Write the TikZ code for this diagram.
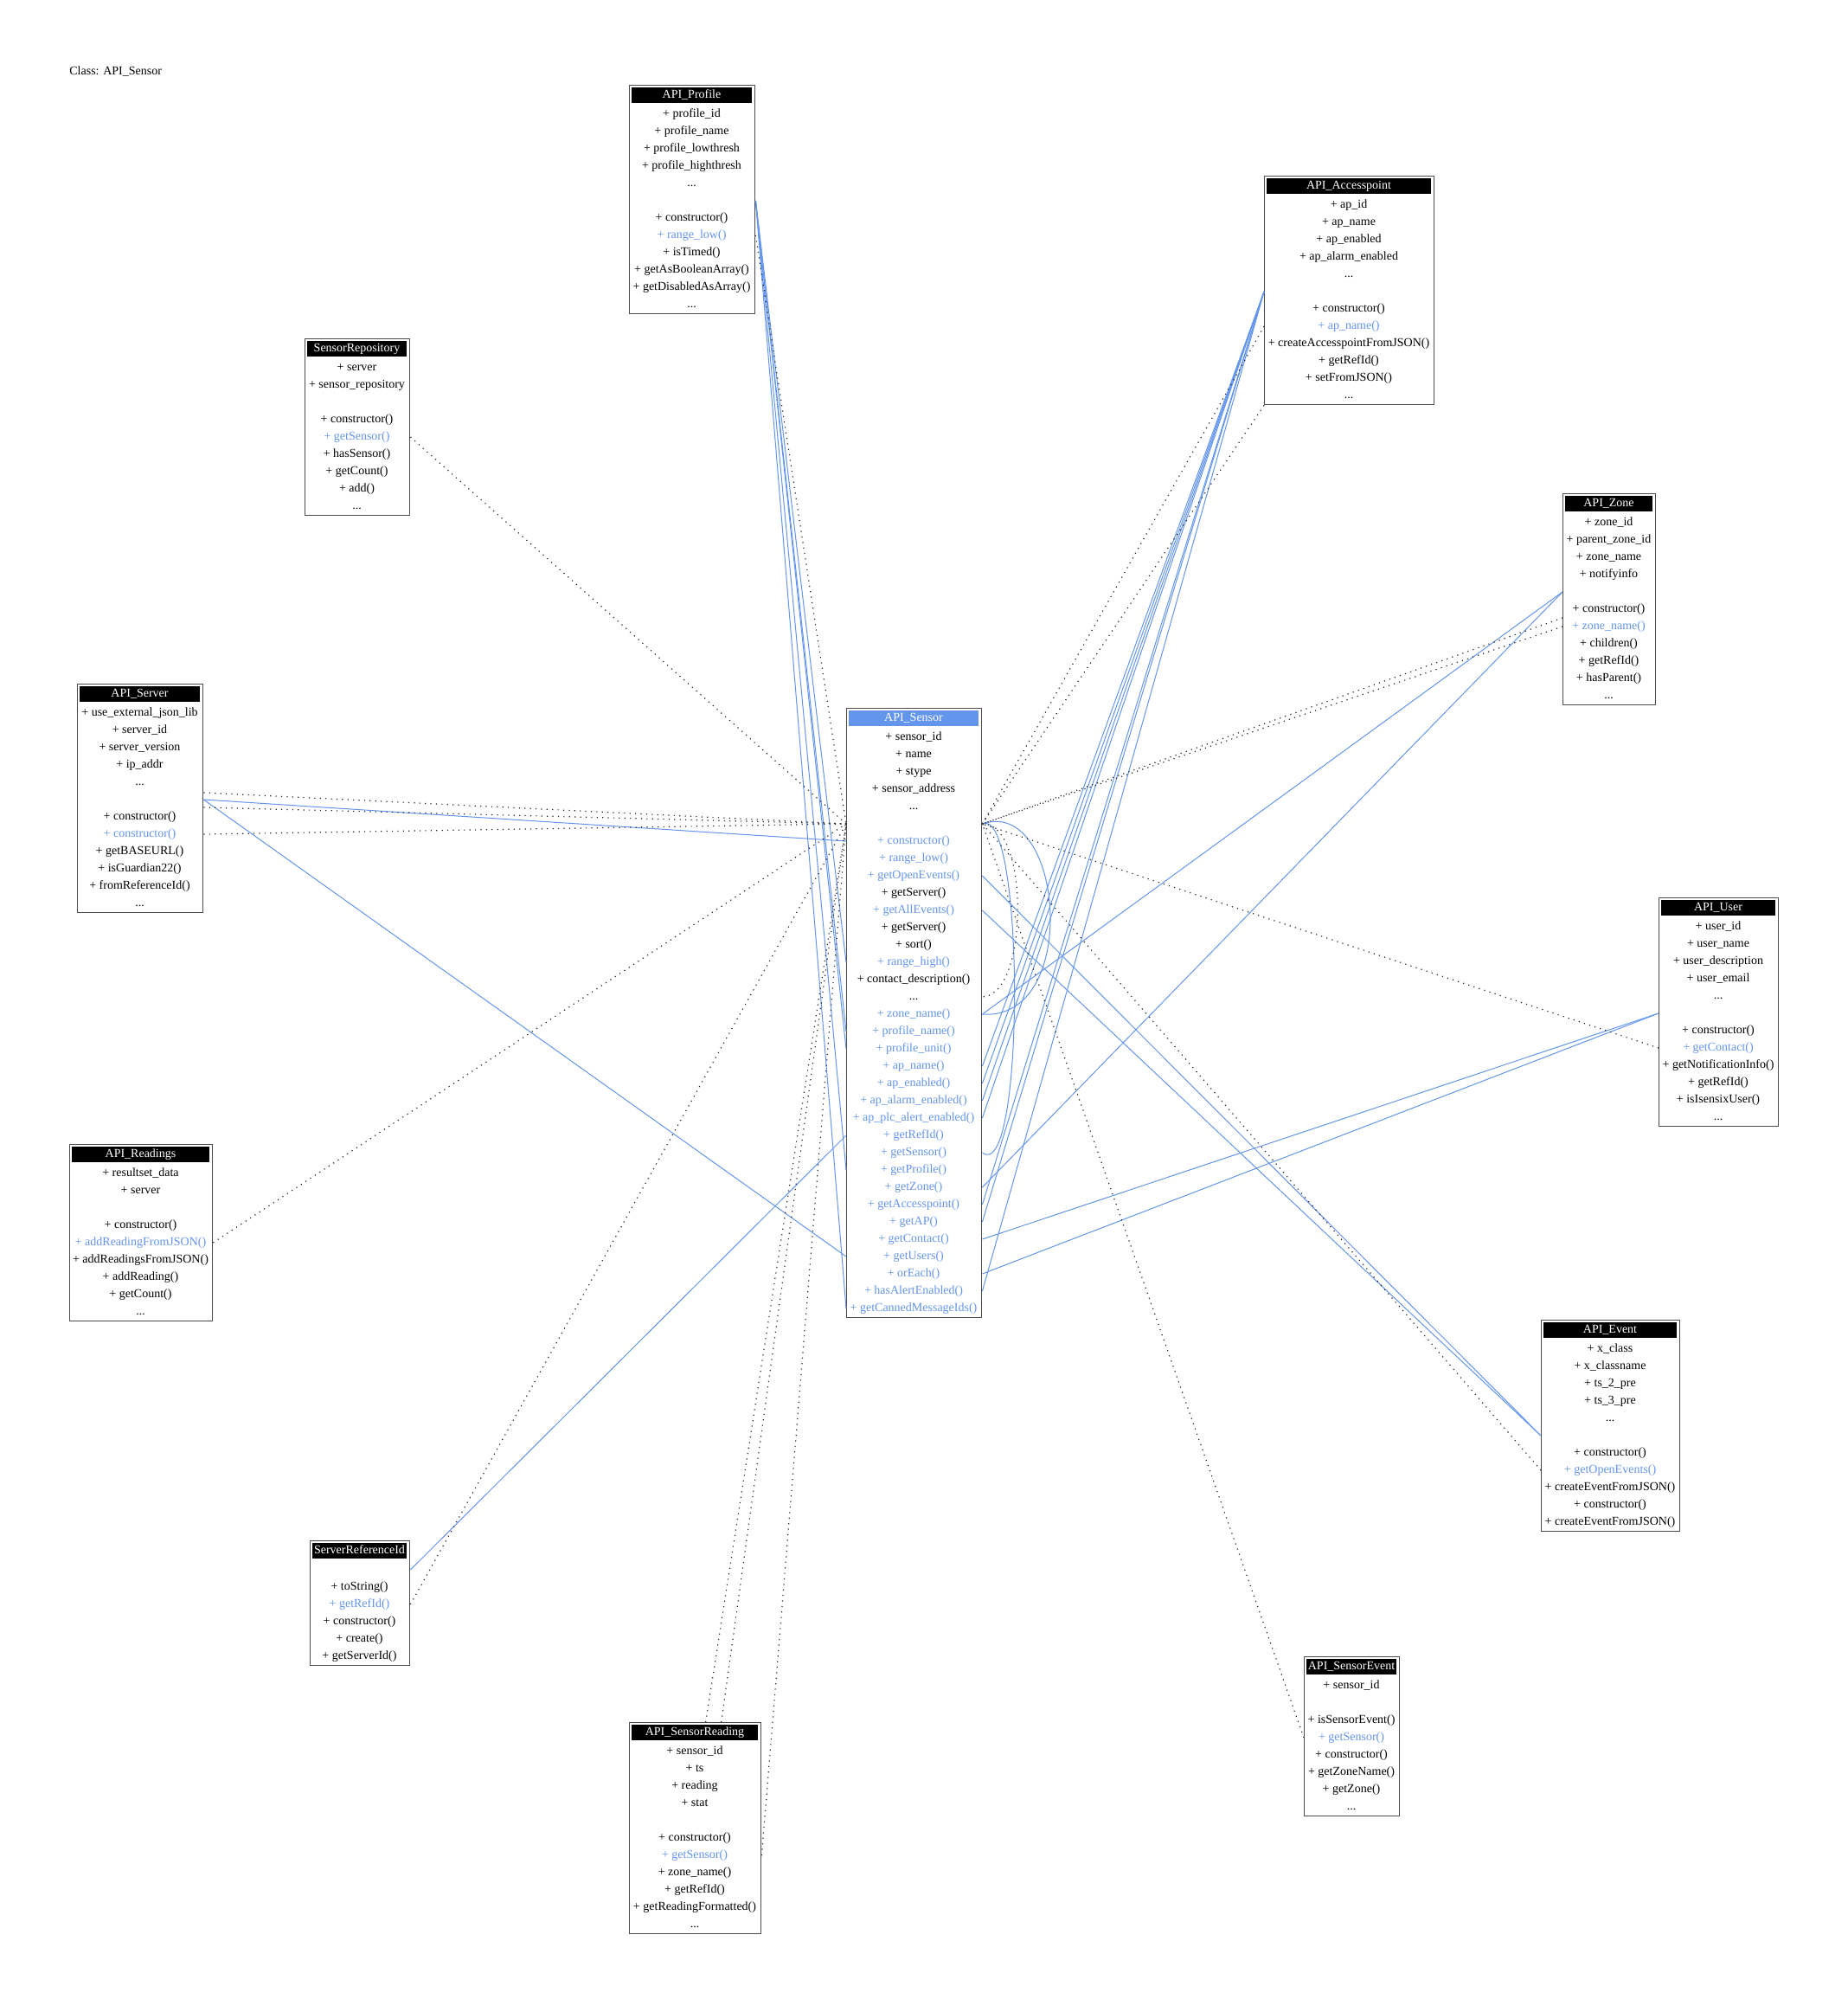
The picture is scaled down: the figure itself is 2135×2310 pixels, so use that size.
\documentclass[tikz,border=0pt]{standalone}
\usepackage{fontspec}
\setmainfont{Liberation Serif}
\usetikzlibrary{calc}
\definecolor{apiblue}{HTML}{6495ED}
\colorlet{N}{black}
\colorlet{H}{apiblue}
\newcommand\moredots{...}
\tikzset{
  row/.style={inner sep=0pt, font=\fontsize{7}{8}\selectfont, text height=5pt, text depth=1.5pt},
  frame/.style={draw=black!70, line width=0.7pt, inner sep=0pt, anchor=north west},
  head/.style={row, anchor=north, text=white},
  uses/.style={draw=apiblue, line width=0.5pt},
  calls/.style={draw=black!85, line width=0.6pt, dash pattern=on 0.6pt off 2.6pt},
}

% #1 name, #2 left, #3 top, #4 width, #5 header fill, #6 title, #7 rows
\newcommand\umlclass[7]{%
  \foreach \col/\txt [count=\i] in {#7}{
    \node[row, text=\col] (#1-\i) at ({#2+#4/2}, {#3+14+20*\i}) {\txt};
    \xdef\nrows{\i}
  }
  \node[frame, minimum width=#4*0.5pt, minimum height={(24+20*\nrows)*0.5pt}] (#1) at (#2,#3) {};
  \node[head, fill=#5, minimum width={(#4-6)*0.5pt}, minimum height=9pt] (#1-head) at ({#2+#4/2}, {#3+3}) {#6};
}

\begin{document}
\begin{tikzpicture}[x=0.5pt, y=-0.5pt]
\useasboundingbox[fill=white] (0,0) rectangle (2135,2310);

\node[row, anchor=west] (title) at (80,83) {Class: API\_Sensor};

% the class in the middle
\umlclass{sensor}{978}{818}{156}{apiblue}{API\_Sensor}{N/+ sensor\_id, N/+ name, N/+ stype,
  N/+ sensor\_address, N/\moredots, N/{}, H/+ constructor(), H/+ range\_low(), H/+ getOpenEvents(),
  N/+ getServer(), H/+ getAllEvents(), N/+ getServer(), N/+ sort(), H/+ range\_high(),
  N/+ contact\_description(), N/\moredots, H/+ zone\_name(), H/+ profile\_name(), H/+ profile\_unit(),
  H/+ ap\_name(), H/+ ap\_enabled(), H/+ ap\_alarm\_enabled(), H/+ ap\_plc\_alert\_enabled(),
  H/+ getRefId(), H/+ getSensor(), H/+ getProfile(), H/+ getZone(), H/+ getAccesspoint(),
  H/+ getAP(), H/+ getContact(), H/+ getUsers(), H/+ orEach(), H/+ hasAlertEnabled(),
  H/+ getCannedMessageIds()}

% the classes round it
\umlclass{profile}{727}{98}{145}{black}{API\_Profile}{N/+ profile\_id, N/+ profile\_name,
  N/+ profile\_lowthresh, N/+ profile\_highthresh, N/\moredots, N/{}, N/+ constructor(),
  H/+ range\_low(), N/+ isTimed(), N/+ getAsBooleanArray(), N/+ getDisabledAsArray(), N/\moredots}
\umlclass{ap}{1461}{203}{196}{black}{API\_Accesspoint}{N/+ ap\_id, N/+ ap\_name, N/+ ap\_enabled,
  N/+ ap\_alarm\_enabled, N/\moredots, N/{}, N/+ constructor(), H/+ ap\_name(),
  N/+ createAccesspointFromJSON(), N/+ getRefId(), N/+ setFromJSON(), N/\moredots}
\umlclass{zone}{1806}{570}{107}{black}{API\_Zone}{N/+ zone\_id, N/+ parent\_zone\_id, N/+ zone\_name,
  N/+ notifyinfo, N/{}, N/+ constructor(), H/+ zone\_name(), N/+ children(), N/+ getRefId(),
  N/+ hasParent(), N/\moredots}
\umlclass{repo}{352}{391}{121}{black}{SensorRepository}{N/+ server, N/+ sensor\_repository, N/{},
  N/+ constructor(), H/+ getSensor(), N/+ hasSensor(), N/+ getCount(), N/+ add(), N/\moredots}
\umlclass{server}{89}{790}{145}{black}{API\_Server}{N/+ use\_external\_json\_lib, N/+ server\_id,
  N/+ server\_version, N/+ ip\_addr, N/\moredots, N/{}, N/+ constructor(), H/+ constructor(),
  N/+ getBASEURL(), N/+ isGuardian22(), N/+ fromReferenceId(), N/\moredots}
\umlclass{user}{1917}{1037}{138}{black}{API\_User}{N/+ user\_id, N/+ user\_name,
  N/+ user\_description, N/+ user\_email, N/\moredots, N/{}, N/+ constructor(), H/+ getContact(),
  N/+ getNotificationInfo(), N/+ getRefId(), N/+ isIsensixUser(), N/\moredots}
\umlclass{readings}{80}{1322}{165}{black}{API\_Readings}{N/+ resultset\_data, N/+ server, N/{},
  N/+ constructor(), H/+ addReadingFromJSON(), N/+ addReadingsFromJSON(), N/+ addReading(),
  N/+ getCount(), N/\moredots}
\umlclass{event}{1781}{1525}{160}{black}{API\_Event}{N/+ x\_class, N/+ x\_classname, N/+ ts\_2\_pre,
  N/+ ts\_3\_pre, N/\moredots, N/{}, N/+ constructor(), H/+ getOpenEvents(),
  N/+ createEventFromJSON(), N/+ constructor(), N/+ createEventFromJSON()}
\umlclass{srid}{358}{1780}{115}{black}{ServerReferenceId}{N/{}, N/+ toString(), H/+ getRefId(),
  N/+ constructor(), N/+ create(), N/+ getServerId()}
\umlclass{sreading}{727}{1990}{152}{black}{API\_SensorReading}{N/+ sensor\_id, N/+ ts, N/+ reading,
  N/+ stat, N/{}, N/+ constructor(), H/+ getSensor(), N/+ zone\_name(), N/+ getRefId(),
  N/+ getReadingFormatted(), N/\moredots}
\umlclass{sevent}{1507}{1914}{110}{black}{API\_SensorEvent}{N/+ sensor\_id, N/{}, N/+ isSensorEvent(),
  H/+ getSensor(), N/+ constructor(), N/+ getZoneName(), N/+ getZone(), N/\moredots}

\coordinate (lhub) at (sensor.west |- sensor-6);
\coordinate (rhub) at (sensor.east |- sensor-6);

% API_Sensor uses
\foreach \r in {14,18,19,26,34} \draw[uses] (sensor.west |- sensor-\r) -- (profile.east |- profile-6);
\foreach \r in {7,31} \draw[uses] (sensor.west |- sensor-\r) -- (server.east |- server-6);
\draw[uses] (sensor.west |- sensor-24) -- (srid.east |- srid-1);
\foreach \r in {20,21,22,23,28,29,33} \draw[uses] (sensor.east |- sensor-\r) -- (ap.west |- ap-6);
\foreach \r in {17,27} \draw[uses] (sensor.east |- sensor-\r) -- (zone.west |- zone-5);
\foreach \r in {30,32} \draw[uses] (sensor.east |- sensor-\r) -- (user.west |- user-6);
\foreach \r in {9,11} \draw[uses] (sensor.east |- sensor-\r) -- (event.west |- event-6);
\draw[uses] (rhub) .. controls (1230,920) and (1250,1180) .. (sensor.east |- sensor-17);
\draw[uses] (rhub) .. controls (1185,930) and (1185,1370) .. (sensor.east |- sensor-25);

% callers of API_Sensor
\draw[calls] (profile.east |- profile-8) -- (lhub);
\draw[calls] (repo.east |- repo-5) -- (lhub);
\draw[calls] ($(server.east |- server-6)+(0,-8)$) -- (lhub);
\draw[calls] ($(server.east |- server-6)+(0,9)$) -- (lhub);
\draw[calls] (server.east |- server-8) -- (lhub);
\draw[calls] (readings.east |- readings-5) -- (lhub);
\draw[calls] (srid.east |- srid-3) -- (lhub);
\draw[calls] ($(sreading.north)+(12,0)$) -- (lhub);
\draw[calls] ($(sreading.north)+(30,0)$) -- (lhub);
\draw[calls] (sreading.east |- sreading-7) -- (lhub);
\draw[calls] (ap.west |- ap-8) -- (rhub);
\draw[calls] (ap.south west) -- (rhub);
\draw[calls] (zone.west |- zone-7) -- (rhub);
\draw[calls] ($(zone.west |- zone-7)+(0,-10)$) -- (rhub);
\draw[calls] (user.west |- user-8) -- (rhub);
\draw[calls] (event.west |- event-8) -- (rhub);
\draw[calls] (sevent.west |- sevent-4) -- (rhub);
\draw[calls] (rhub) .. controls (1190,950) and (1190,1150) .. (sensor.east |- sensor-16);
\end{tikzpicture}
\end{document}
